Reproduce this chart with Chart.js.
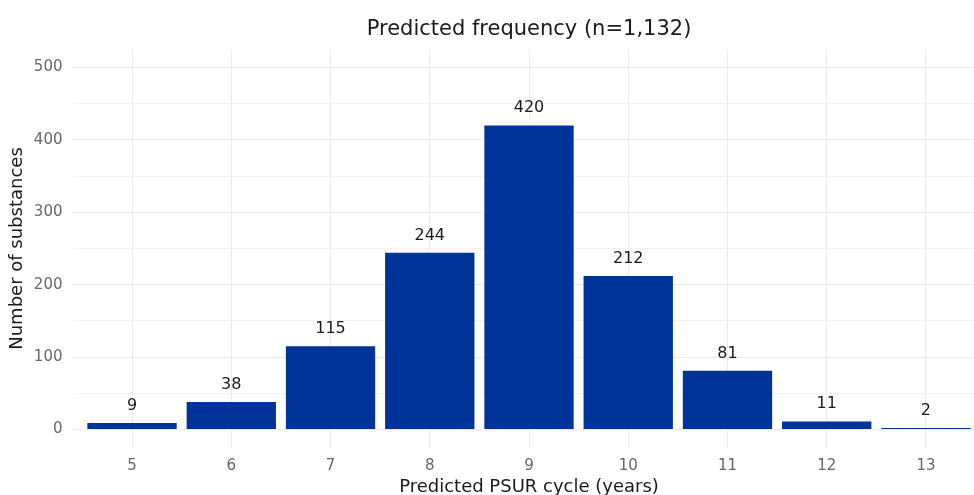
<!DOCTYPE html>
<html>
<head>
<meta charset="utf-8">
<script src="https://cdn.jsdelivr.net/npm/chart.js@4/dist/chart.umd.min.js"></script>
<style>
  html, body { margin: 0; padding: 0; background: #ffffff; overflow: hidden; }
  #wrap { position: relative; width: 974px; height: 495px; overflow: hidden; }
  #box { position: absolute; left: 0; top: 0; width: 990px; height: 505px; }
</style>
</head>
<body>
<div id="wrap"><div id="box"><canvas id="c"></canvas></div></div>
<script>
// Predicted PSUR cycle (years) and number of substances per cycle
const cycles = [5, 6, 7, 8, 9, 10, 11, 12, 13];
const counts = [9, 38, 115, 244, 420, 212, 81, 11, 2];
const yTicks = [0, 50, 100, 150, 200, 250, 300, 350, 400, 450, 500];
const titleText = 'Predicted frequency (n=1,132)';
const xTitle = 'Predicted PSUR cycle (years)';
const yTitle = 'Number of substances';

const FONT = 'DejaVu Sans, Verdana, sans-serif';
const BAR = '#003399';
const GRID = '#ebebeb';

// Title centred over the plotting panel
const panelTitle = {
  id: 'panelTitle',
  afterDraw(chart) {
    const { ctx, chartArea } = chart;
    ctx.save();
    ctx.font = '21px ' + FONT;
    ctx.fillStyle = '#1a1a1a';
    ctx.textAlign = 'center';
    ctx.textBaseline = 'alphabetic';
    ctx.fillText(titleText, (chartArea.left + chartArea.right) / 2, 35);
    ctx.restore();
  }
};

// Count printed above each bar
const barLabels = {
  id: 'barLabels',
  afterDatasetsDraw(chart) {
    const { ctx } = chart;
    const meta = chart.getDatasetMeta(0);
    ctx.save();
    ctx.font = '16px ' + FONT;
    ctx.fillStyle = '#1a1a1a';
    ctx.textAlign = 'center';
    ctx.textBaseline = 'alphabetic';
    meta.data.forEach((bar, i) => {
      ctx.fillText(String(counts[i]), bar.x, bar.y - 13);
    });
    ctx.restore();
  }
};

new Chart(document.getElementById('c'), {
  type: 'bar',
  data: {
    datasets: [{
      data: cycles.map((c, i) => ({ x: c, y: counts[i] })),
      backgroundColor: BAR,
      borderWidth: 0,
      barPercentage: 0.9,
      categoryPercentage: 1.0
    }]
  },
  options: {
    responsive: true,
    maintainAspectRatio: false,
    animation: false,
    layout: { padding: { top: 49.5, left: 0, right: 4.5, bottom: 0 } },
    plugins: {
      legend: { display: false },
      title: { display: false },
      tooltip: { enabled: false }
    },
    scales: {
      x: {
        type: 'linear',
        min: 4.4,
        max: 13.6,
        offset: false,
        afterBuildTicks(scale) { scale.ticks = cycles.map(v => ({ value: v })); },
        afterFit(scale) { scale.height = 57.5; },
        ticks: { color: '#666666', font: { family: FONT, size: 15 }, padding: 10 },
        grid: { color: GRID, lineWidth: 1, drawTicks: false, offset: false },
        border: { display: false },
        title: { display: true, text: xTitle, color: '#1a1a1a', font: { family: FONT, size: 18 }, padding: { top: 2, bottom: 7 } }
      },
      y: {
        type: 'linear',
        min: -25,
        max: 525,
        afterBuildTicks(scale) { scale.ticks = yTicks.map(v => ({ value: v })); },
        afterFit(scale) { scale.width = 72.5; },
        ticks: {
          color: '#666666',
          font: { family: FONT, size: 15 },
          padding: 10,
          callback: v => (v % 100 === 0 ? String(v) : '')
        },
        grid: {
          color: ctx => (ctx.tick && ctx.tick.value % 100 === 0 ? GRID : '#f2f2f2'),
          lineWidth: 1,
          drawTicks: false
        },
        border: { display: false },
        title: { display: true, text: yTitle, color: '#1a1a1a', font: { family: FONT, size: 18 }, padding: { top: 7, bottom: 0 } }
      }
    }
  },
  plugins: [panelTitle, barLabels]
});
</script>
</body>
</html>
